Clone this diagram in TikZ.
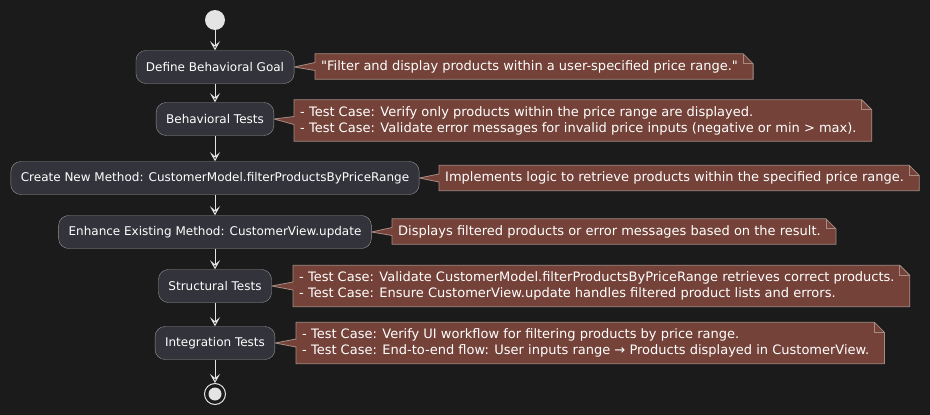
\documentclass[tikz,border=0pt]{standalone}
\usepackage{fontspec}
\newfontfamily\plantfont{DejaVu Sans}
\usetikzlibrary{arrows.meta}
\definecolor{myBack}{RGB}{27, 27, 27}
\definecolor{myBox}{RGB}{51, 51, 59}
\definecolor{myBoxLine}{RGB}{150, 150, 150}
\definecolor{myNote}{RGB}{116, 66, 56}
\definecolor{myNoteLine}{RGB}{168, 140, 132}
\definecolor{myFlow}{RGB}{228, 228, 228}
\pgfdeclarelayer{back}
\pgfsetlayers{back,main}
\tikzset{
	act/.style={draw=myBoxLine, fill=myBox, rounded corners=10pt, text=white, font=\plantfont\fontsize{12}{14}\selectfont, minimum height=33pt, inner xsep=10pt},
	note/.style={anchor=west, text=white, align=left, font=\plantfont\fontsize{13}{16}\selectfont, inner xsep=6pt, inner ysep=0pt, minimum height=25pt},
	twolines/.style={minimum height=41pt},
	noteline/.style={draw=myNoteLine, fill=myNote, line width=0.8pt},
	flow/.style={draw=myFlow, line width=1pt, -{Stealth[length=9pt, width=10pt, inset=4pt]}}
}

\begin{document}
\begin{tikzpicture}[x=1pt, y=-1pt]
			\useasboundingbox (0,0) rectangle (930,415);
			\begin{pgfonlayer}{back}
				\fill[myBack] (0,0) rectangle (930,415);
			\end{pgfonlayer}

			\draw (215,20) node[circle, fill=myFlow, minimum size=20pt, inner sep=0pt] (start) {};
			\draw (215,67) node[act] (goal) {Define Behavioral Goal};
			\draw (215,119) node[act] (btests) {Behavioral Tests};
			\draw (215,178) node[act] (newmethod) {Create New Method: CustomerModel.filterProductsByPriceRange};
			\draw (215,232) node[act] (enhance) {Enhance Existing Method: CustomerView.update};
			\draw (215,286) node[act] (stests) {Structural Tests};
			\draw (215,343) node[act] (itests) {Integration Tests};
			\draw (215,394) node[circle, draw=myFlow, line width=1pt, minimum size=21pt, inner sep=0pt] (stop) {};
			\fill[myFlow] (stop) circle (6.5pt);

			\draw (315,66.5) node[note] (goalnote) {"Filter and display products within a user-specified price range."};
			\draw (294,120.5) node[note, twolines] (btestsnote) {- Test Case: Verify only products within the price range are displayed.\\- Test Case: Validate error messages for invalid price inputs (negative or min > max).};
			\draw (439,178) node[note] (newmethodnote) {Implements logic to retrieve products within the specified price range.};
			\draw (392,231.5) node[note] (enhancenote) {Displays filtered products or error messages based on the result.};
			\draw (293,286) node[note, twolines] (stestsnote) {- Test Case: Validate CustomerModel.filterProductsByPriceRange retrieves correct products.\\- Test Case: Ensure CustomerView.update handles filtered product lists and errors.};
			\draw (296,343) node[note, twolines] (itestsnote) {- Test Case: Verify UI workflow for filtering products by price range.\\- Test Case: End-to-end flow: User inputs range → Products displayed in CustomerView.};

			% note outlines with pointer and folded corner
			\begin{pgfonlayer}{back}
				\foreach \a/\n in {goal/goalnote, btests/btestsnote, newmethod/newmethodnote, enhance/enhancenote, stests/stestsnote, itests/itestsnote} {
					\draw[noteline] (\n.north west) -- ([xshift=-1pt]\n.north east) -- ([xshift=9pt, yshift=-10pt]\n.north east)
						-- ([xshift=9pt]\n.south east) -- (\n.south west) -- ([yshift=-4pt]\n.west) -- (\a.east)
						-- ([yshift=4pt]\n.west) -- cycle;
					\draw[myNoteLine, line width=0.8pt] ([xshift=-1pt]\n.north east) -- ([xshift=-1pt, yshift=-10pt]\n.north east)
						-- ([xshift=9pt, yshift=-10pt]\n.north east);
				}
			\end{pgfonlayer}

			\path[flow]
			(start) edge (goal)
			(goal) edge (btests)
			(btests) edge (newmethod)
			(newmethod) edge (enhance)
			(enhance) edge (stests)
			(stests) edge (itests)
			(itests) edge (stop)
			;
		\end{tikzpicture}
\end{document}
